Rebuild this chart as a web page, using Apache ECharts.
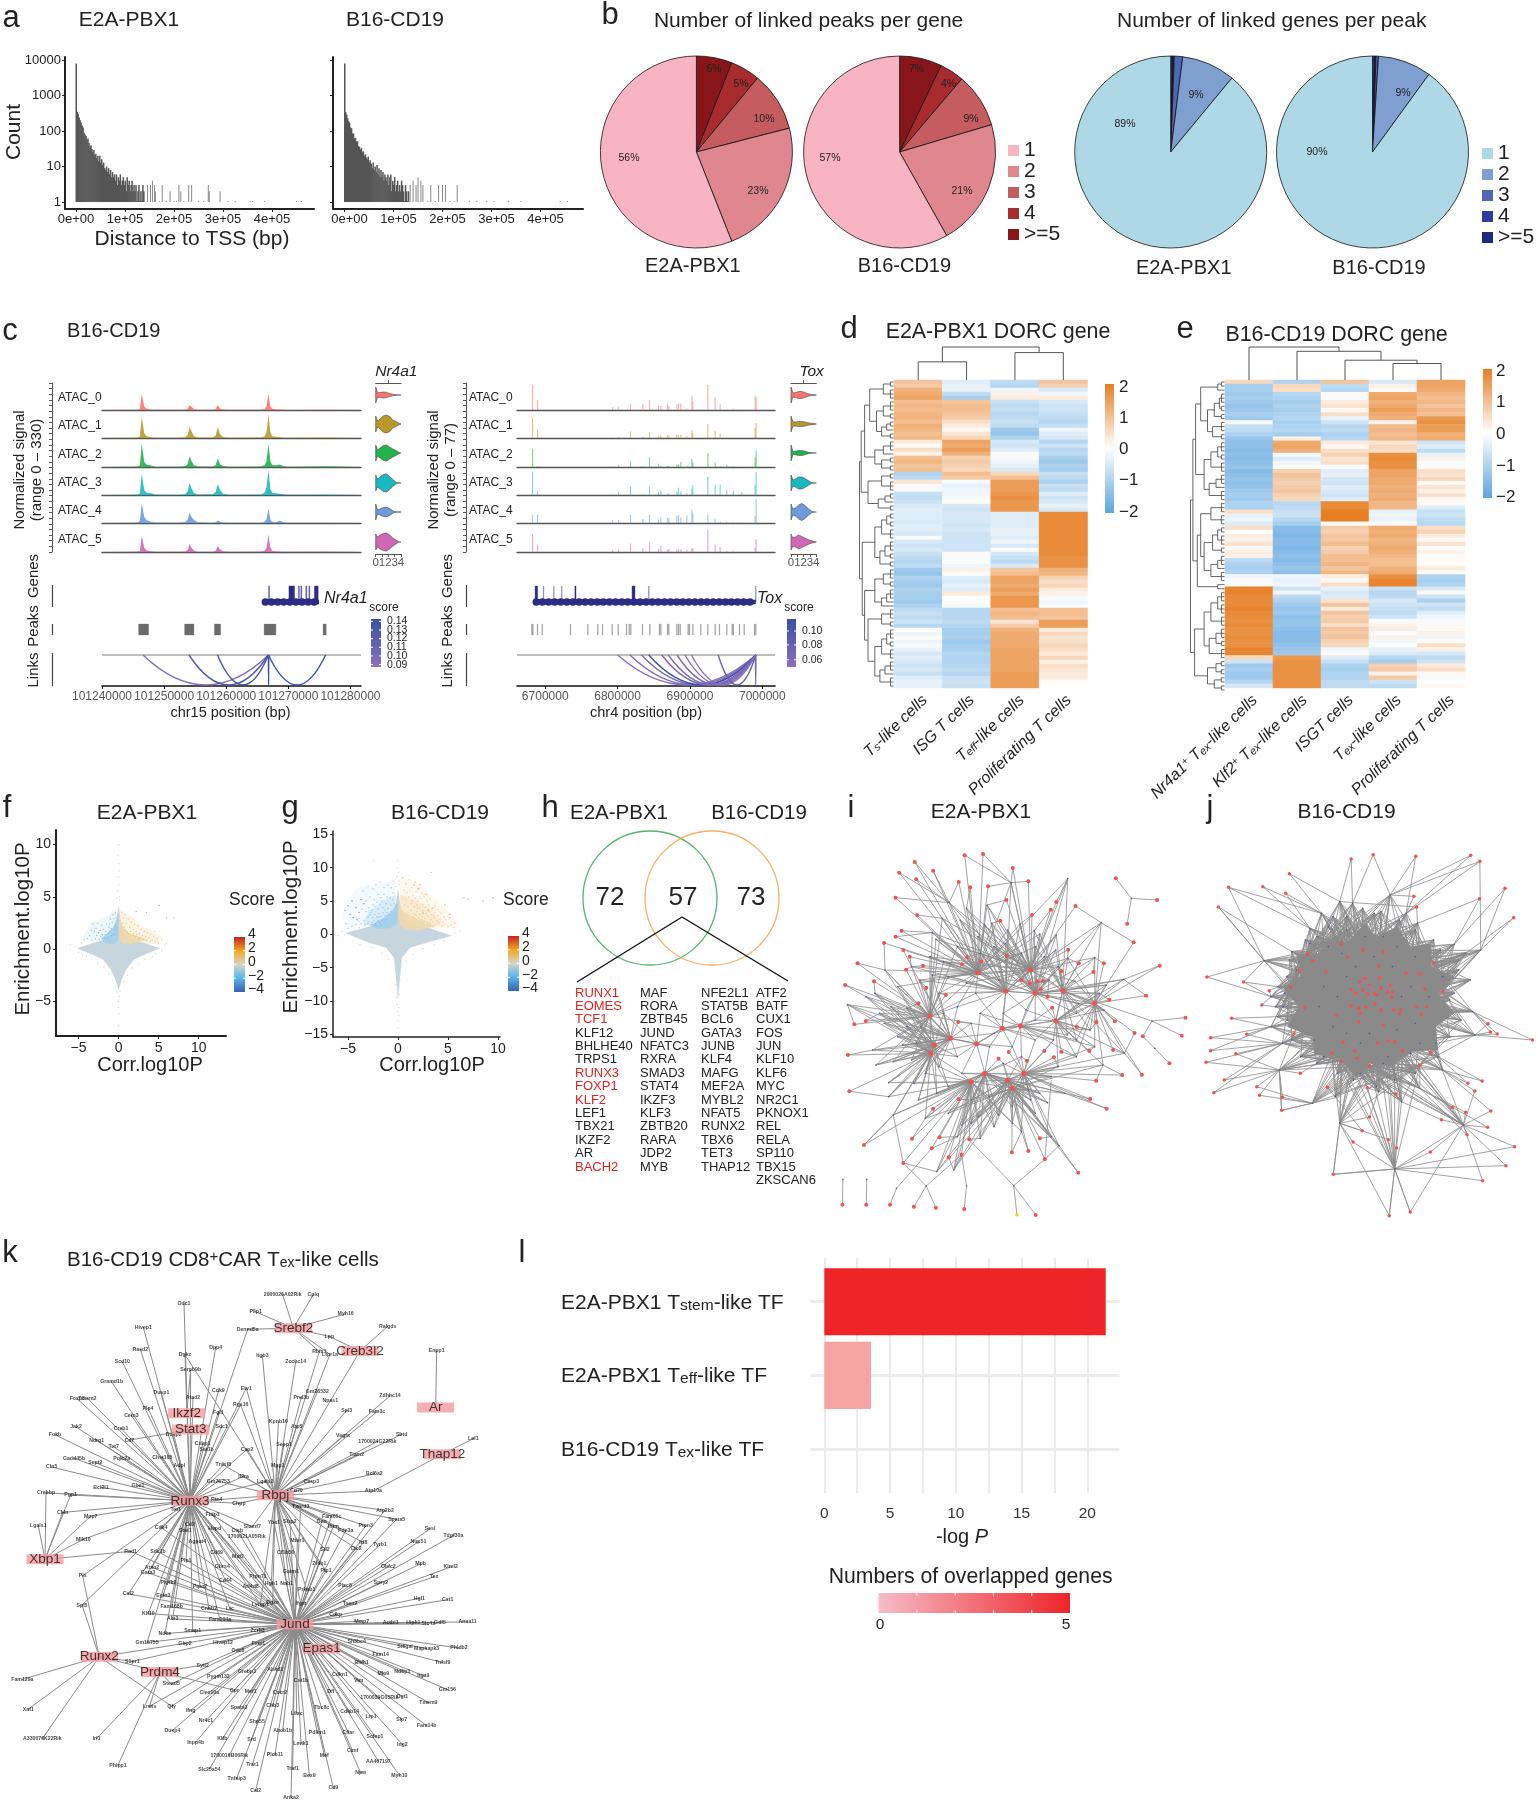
<!DOCTYPE html>
<html>
<head>
<meta charset="utf-8">
<style>html,body{margin:0;background:#fff}#main{width:1538px;height:1800px}</style>
<script src="https://cdn.jsdelivr.net/npm/echarts@6/dist/echarts.min.js"></script>
</head>
<body>
<div id="main"></div>
<script>
// a: distance to TSS histograms, counts per 2 kb bin, then the sparse tail as [x in 1e5, count]
const histA = [8000,350,300,240,200,175,140,125,90,80,72,58,62,46,36,40,31,26,29,21,23,17,20,14,20,13,16,11,13,9,8,10,7,9,6,8,5,7,5,6,4,6,3,5,4,6,3,4,5,3,4,2,5,3,4,2,3,4,2,3,2,3,1,2,3,1,2,1,3,2];
const tailA = [[1.46,3],[1.52,3],[1.56,4],[1.6,3],[1.62,2],[1.76,3],[1.92,2],[2.1,3],[2.14,2],[2.3,3],[2.36,3],[2.7,3],[2.72,2],[2.94,2],[1.7,1],[1.85,1],[2,1],[2.05,1],[2.2,1],[2.5,1],[2.6,1],[3.1,1],[3.25,1],[3.55,1],[3.6,1],[3.85,1],[4.5,1],[4.6,1]];
const histB = [8000,340,290,230,190,170,125,120,85,85,62,64,50,52,38,36,30,33,25,27,20,22,18,16,19,13,15,12,9,13,8,10,7,11,6,9,5,8,5,7,4,6,5,4,6,3,5,6,2,4,3,5,2,3,4,2,3,2,4,3,2,1,3,2,1,2];
const tailB = [[1.34,3],[1.4,4],[1.46,3],[1.5,5],[1.56,4],[1.6,3],[1.76,3],[1.92,3],[2,3],[2.06,3],[2.3,3],[1.7,1],[1.85,1],[2.15,1],[2.25,1],[2.55,1],[2.7,1],[2.9,1],[3.05,1],[3.35,1],[3.6,1],[4.4,1],[4.55,1]];

// b: pies, slices clockwise from 12 o'clock
const pieNames = ['>=5','4','3','2','1'];
const peaksE2A = [6,5,10,23,56];
const peaksB16 = [7,4,9,21,57];
const genesE2A = [0.4,0.2,1.4,9,89];
const genesB16 = [0.4,0.2,0.4,9,90];
const pieReds = ['#87151A','#A82C2E','#C45C60','#E0868E','#F8B4C2'];
const pieBlues = ['#1E2A7E','#2F3C9E','#4F68B5','#7F9FD0','#AFD8E6'];

// c: coverage tracks, Nr4a1 locus (kb from 101240000) and Tox locus (kb)
const trackNames = ['ATAC_0','ATAC_1','ATAC_2','ATAC_3','ATAC_4','ATAC_5'];
const trackColors = ['#F8766D','#B8992A','#22B14C','#17B8BF','#6C9BDC','#D066B4'];
const nrPos = [0,4,5.7,6.1,6.4,6.8,7.2,7.9,8.6,12,13.4,13.8,14.1,14.4,14.8,15.4,17.8,18.3,18.65,19,19.5,20.5,25.6,26.2,26.5,26.8,27.1,27.4,28,28.6,29.4,30,36,41.7];
const nrSignal = [
  [0,2,3,12,190,40,14,6,2,2,4,16,60,38,12,3,3,12,55,18,6,2,3,14,45,195,45,14,8,5,2,1,3,0],
  [0,3,5,18,245,55,22,10,3,3,8,35,130,80,25,5,5,30,130,45,12,3,5,22,70,280,70,22,14,12,4,2,6,3],
  [1,4,6,20,275,60,26,18,4,3,8,35,130,70,22,6,6,25,100,32,12,4,6,25,75,275,70,25,20,30,6,3,8,4],
  [1,3,5,18,250,55,26,22,5,3,9,40,140,80,25,6,8,35,130,55,16,4,6,28,90,295,75,26,22,16,5,3,6,5],
  [1,4,6,24,235,70,32,16,5,4,12,40,120,70,38,10,3,8,30,16,6,3,3,14,45,175,42,16,10,28,6,3,4,2],
  [1,3,5,16,190,50,18,10,3,3,6,25,95,50,18,4,3,14,70,28,9,4,5,16,50,205,52,16,10,6,3,2,6,4]
];
const toxPos = [6682.5,6689.4,6793,6801.3,6817.9,6834.9,6844.1,6856.5,6859.8,6869,6870.8,6881.9,6884.2,6887.4,6895.7,6902.6,6904,6924.7,6934.8,6941.7,6950.9,6960,6971.6,6990,6991.4];
const toxSignal = [
  [69,27,8,9,18,16,27,11,11,18,11,16,18,18,5,38,23,69,35,16,3,4,1,37,37],
  [55,24,2,3,18,3,16,5,6,8,7,8,8,9,5,22,14,38,20,13,2,2,1,28,41],
  [50,2,2,5,16,3,27,9,3,3,3,6,7,14,2,22,12,38,12,3,7,2,1,27,45],
  [64,10,2,8,23,3,23,8,12,4,4,10,20,10,5,18,27,50,27,29,14,10,8,27,64],
  [23,23,8,8,23,11,23,10,15,15,13,20,22,15,20,37,28,23,12,5,4,3,2,20,66],
  [50,20,5,7,23,10,27,8,18,6,8,7,8,7,6,10,10,62,20,14,3,2,1,12,35]
];
// violins: half heights at violinX expression levels
const violinX = [0,0.3,0.7,1.2,1.7,2.2,2.7,3.2,3.7,4];
const nrViolins = [
  [8,2.2,2.5,3,2.6,1.6,0.8,0.2,0,0],
  [8,3,5,8,9,7.5,4,2.5,0.8,0],
  [8,3,5,7.5,8,6,4,2.5,0.6,0],
  [8,4,6,8.5,9,6.5,3.5,0.8,0,0],
  [8,2,3,4.5,5,3.5,1.2,0,0,0],
  [8,5,7,8.5,9,7,4,2,0,0]
];
const toxViolins = [
  [8,2,2.5,3.5,3.5,2.5,1.2,0.6,0.2,0],
  [8,2,2,2.5,2.5,2,1.2,0.8,0.4,0],
  [8,1.5,1.8,2.5,2.5,1.8,0.8,0.2,0,0],
  [8,3,4,6,6,4.5,2.5,0.6,0,0],
  [8,3,4,7,8.5,6.5,3.5,1,0,0],
  [8,4,5,7,5.5,4,2.5,1.2,0.4,0]
];
const violinTicks = [0,1,2,3,4];
const nrGeneSpan = [26.3,34.95];
const nrExons = [[26.8,27],[30.1,31],[31.6,31.8],[32,32.2],[32.8,33],[33.3,33.5],[34.2,34.8]];
const nrPeaks = [[5.9,7.5],[13.3,14.8],[18.1,19.1],[26.1,28],[35.6,36.1]];
const nrLinks = [[6.6,26.8,0.095],[14,26.8,0.125],[18.6,26.8,0.135],[26.8,36,0.14],[26.8,26.85,0.14]];
const toxGeneSpan = [6687.6,6991];
const toxExons = [[6686,6689.5],[6697.5,6698],[6711.8,6712.2],[6722.8,6723.2],[6741,6742.5],[6820,6824],[6843,6843.5],[6990.8,6991.3]];
const toxPeaks = [6681.6,6683,6689.4,6695.9,6735,6758.9,6772.7,6779.2,6792.5,6800.8,6812.3,6816,6818.3,6834.4,6844.6,6857.9,6859.8,6869,6870.8,6881.9,6884.2,6886.5,6897.5,6899.4,6904,6915,6924.7,6934.8,6940.8,6950.9,6958.3,6960,6968.4,6974.9,6989.1,6991];
const toxLinks = [[6800,6991,0.06],[6817,6991,0.065],[6833,6991,0.07],[6843,6991,0.105],[6861,6991,0.07],[6870,6991,0.065],[6882,6991,0.07],[6893,6991,0.065],[6902,6991,0.06],[6939,6991,0.08],[6990.5,6991.2,0.07]];

// d: scaled accessibility, rows top to bottom, columns as in dCols
const dCols = ['Ts','ISG','Teff','Prolif'];
const heatD = [
[.9,-.4,-.8,.9],[.8,-.3,-.9,.7],[1.2,-.3,-.2,-.5],[1.3,-.8,.2,-.2],[1.4,-1.1,.3,.3],
[1,.9,-.7,-.5],[1.1,1,-.8,-.6],[1,1,-.7,-.6],[1.1,.9,-.9,-.7],[1.2,.8,-.8,-.8],[1,.5,-.7,-.9],[1.2,.3,-.8,-.7],[1.1,.1,-1.2,-.2],[1,.4,-1.3,-.4],[1.1,.6,-1,-.5],
[.3,1.4,-.5,-.9],[.1,1.3,-.6,-.6],[.5,1.5,-.4,-.9],[.2,1.2,-.1,-.8],[1,.7,.1,-1.1],[1.1,.8,-.2,-1.2],[.9,.7,-.3,-1],[1,.6,-.5,-1.1],
[-1,1,.6,-.7],[-.8,.8,1,-.8],[.4,-.1,1.5,-1],[.1,-.3,1.5,-.7],[-.1,-.2,1.5,-.8],[-.7,-.2,1.6,-.4],[-.8,-.1,1.7,-.6],[-.6,.05,1.6,-.5],[-.5,-.5,1.6,-.3],[-.4,-.6,1.6,-.5],
[-.4,-.5,-.4,1.8],[-.4,-.5,-.4,1.8],[-.5,-.5,-.4,1.8],[-.4,-.6,-.4,1.8],[-.4,-.5,-.3,1.8],[-.5,-.6,-.3,1.8],[-.1,-.6,-.4,1.8],[-.5,-.6,-.2,1.8],[-.6,-.6,-.5,1.8],[-.5,-.6,-.1,1.8],[-.7,.1,-.5,1.8],[-.8,-.1,-.7,1.7],[-.9,0,-.8,1.7],[-.8,-.2,-.5,1.7],
[-1.2,.2,.9,1.2],[-1.3,.05,1,1.1],[-1,-.4,1.4,.7],[-1.1,-.5,1.4,.5],[-1.2,-.3,1.3,.6],[-1,-.4,1.5,.3],[-1.1,.3,1.3,.2],[-1.1,0,1.6,-.1],[-1.2,.05,1.6,-.2],[-1,-.1,1.6,-.1],
[-.8,-.9,1,1],[-.7,-.9,1.1,1],[-.8,-.9,1,.9],[-.6,-.8,.4,1.5],[-.9,-.9,.8,1.5],
[0,-1.1,1.2,.3],[-.2,-1.1,1.3,.6],[.05,-1,1.3,.4],[-.2,-1.2,1.3,.5],[-.1,-1.1,1.3,.6],[-.3,-1.1,1.4,.5],[-.5,-.9,1.4,.3],[-.4,-1,1.4,.6],[-.5,-1,1.4,.2],[-.6,-.9,1.4,.5],[-.5,-.8,1.4,.4],[-.7,-.9,1.5,.3],[-.4,-.7,1.5,.3],[-.3,-.6,1.5,.05],[-.3,-.7,1.5,0]
];
// e: same, columns as in eCols
const eCols = ['Nr4a1','Klf2','ISGT','Tex','Prolif'];
const heatE = [
[.6,-1,.9,-.5,1.4],[-1.1,.6,-.8,.2,1.4],[-1.1,.5,-.9,.1,1.3],
[-1.2,-.9,.1,1.3,1.1],[-1.1,-1,-.1,1.4,1],[-1.2,-1.1,.3,1.2,1.1],[-1.3,-1,.4,1.3,.9],[-1.2,-1.1,.1,1.5,1.1],[-1.1,-1,.5,1.3,1],[-1.2,-.9,-.3,1.2,1.6],[-.1,-1.1,-.6,.2,1.7],[-.7,-1,-.9,1.1,1.5],[-.8,-.9,-.8,1.1,1.5],[-1,-1.1,-1,1,1.2],[-1.3,.2,-.9,1.1,1.3],
[-1.4,1.3,.3,.4,-.6],[-1.4,1.4,.1,.6,-.4],[-1.5,1.2,.5,.5,-.8],[-1.4,-.1,.7,1.7,-.3],[-1.5,-.4,.4,1.8,.2],[-1.4,-.2,.5,1.7,-.1],[-1.3,.1,.05,1.7,.1],[-1.5,.7,-.4,1.4,.5],[-1.4,.9,-.3,1.4,.4],[-1.3,.8,-.5,1.3,.6],[-1.4,.7,-.6,1.3,.1],[-1.3,.8,-.4,1.2,.4],[-1.2,.9,-.5,1.3,.2],[-1.1,.7,-.6,1.2,.5],[-1.2,.6,-.4,1.3,.1],
[-1,-.9,1.8,1.1,.1],[-1,-.8,1.8,1.1,-.4],[.5,-.7,2,-.3,-.7],[-.3,-.6,2,-.2,-.6],[-.2,-.9,2,-.3,-.8],[-.4,-1.1,.1,.1,-.9],
[.5,-1.5,.8,1.3,.5],[0,-1.5,.7,1.2,.7],[.3,-1.6,.9,1.3,.3],[.2,-1.5,.8,1.1,.1],[.4,-1.5,1,1.2,.4],[.1,-1.6,.7,1.3,.05],[.3,-1.5,.8,1.2,.2],[.2,-1.4,1,1.1,-.1],[-.8,-1.5,1,1,.1],[-1,-1.4,1.1,1,.05],[-1.1,-1.3,.9,1.2,.3],[-1,-1.4,1.1,1.3,.1],[-.2,-.2,.3,1.7,-1],
[-.1,-.3,.1,1.9,-1.1],[.05,-.2,.5,1.9,-1],
[1.9,-.6,-.3,-.7,-.5],[1.9,-.2,-.5,-.9,.1],[1.8,-.8,-.4,-.8,-.6],[1.8,-1,.4,-.5,-1],[1.8,-1.2,.9,-.6,-.6],[1.9,-1.3,.3,-.7,-.8],[1.8,-1.2,.9,-.8,-.4],[1.8,-1.4,.7,-.6,-.2],[1.7,-1.3,.8,-.1,-.1],[1.8,-1.3,.5,.2,.1],[1.7,-1.4,.9,.3,.05],[1.7,-1.5,.8,-.1,.2],[1.8,-1.5,.9,.2,-.2],[1.7,-1.5,.7,-.2,.1],[1.7,-1.4,.6,.05,.5],[1.9,-1.3,-.2,-.3,.2],[1.9,-1.2,.1,-.4,-.5],
[.6,1.6,-.4,-.9,-.8],[-.6,1.7,-.7,-1.1,-.6],[-1.2,1.7,-1,.7,.3],[-1.1,1.7,-1.1,.8,.5],[-1.2,1.7,-1,.2,.1],[-1.2,1.7,-1,.8,-.1],[-.9,1.7,-.8,-.6,0],[-.5,1.7,-.8,-.8,.1]
];
// dendrograms: column merges [x1,x2,h1,h2,h], row trees [h, left, right] with leaves = row counts
const dColMerges = [[0.5,1.5,0,0,0.55],[2.5,3.5,0,0,0.83],[1,3,0.55,0.83,1]];
const eColMerges = [[3.5,4.5,0,0,0.5],[2.5,4,0,0.5,0.6],[1.5,3.25,0,0.6,0.87],[0.5,2.375,0,0.87,1]];
const dTree = [1,[.95,[.85,[.7,[.3,2,3],[.5,[.3,3,2],[.35,[.2,2,1],2]]],[.55,[.3,3,1],[.35,2,2]]],[.75,[.35,2,3],[.45,[.25,2,1],2]]],[.92,[.55,[.35,[.2,2,2],3],[.4,[.25,3,2],2]],[.85,[.55,[.3,3,2],[.35,[.2,3,1],1]],[.75,[.35,3,2],[.55,[.35,[.2,3,2],3],[.4,[.25,3,1],3]]]]]];
const eTree = [1,[.93,[.85,[.7,[.2,2,1],[.5,[.3,[.15,3,2],2],[.35,3,2]]],[.6,[.4,[.2,3,2],3],[.45,[.25,3,1],3]]],[.8,[.7,[.4,3,3],[.6,[.35,[.2,2,3],2],[.4,[.2,3,1],3]]],[.2,1,1]]],[.88,[.6,[.4,[.2,3,3],3],[.45,[.25,3,2],3]],[.5,[.25,2,2],[.3,2,2]]]];

// f, g: enrichment vs correlation. Dense centre as hull polygons, sparse points read individually
const fHull = [[0,4.2],[-.3,2.6],[-.7,1.5],[-1.5,.9],[-3,.65],[-5.2,.1],[-3,-.6],[-1.9,-1],[-1,-1.9],[-.35,-3],[0,-3.9],[.35,-3],[1,-1.9],[1.9,-1],[3,-.6],[5.2,.1],[3,.65],[1.5,.8],[.7,1.5],[.3,2.6]];
const fBlueHaze = [[-.3,4],[-1.5,3],[-3.5,2.6],[-4.5,1],[-2,.6],[-.3,.6]];
const fOrangeHaze = [[.2,3.8],[1.5,3.2],[3,2.2],[5.5,1.2],[4.8,.5],[2,.5],[.3,.8]];
const fBlueLobe = [[0,3.4],[-.6,2.2],[-1.3,1.6],[-2.2,1],[-1.5,.6],[-.5,.5],[0,1]];
const fOrangeLobe = [[.05,3.2],[.5,2.2],[1.2,1.6],[2.5,1.2],[3.6,.9],[1.5,.5],[.5,.6],[.1,1]];
const fGrey = [[.1,5],[-.1,5.6],[.05,6.2],[-.05,6.9],[.1,7.5],[0,8.2],[-.08,9],[.02,10],[.15,4.7],[-.2,4.9],[-.1,-4.2],[.1,-4.5],[0,-5],[-.05,-5.6],[.08,-6.2],[-.02,-7.3],[.2,-4],[-.25,-4],[-5.5,.2],[-6,.4],[5.4,-.1],[6,.6],[-4.5,-.6],[4.2,-.7],[-4,-.7],[-3.4,-1],[-2.6,-1.3],[-1.8,-1.7],[-1.2,-2.4],[-.8,-3],[.7,-3.1],[1.1,-2.5],[1.7,-1.8],[2.5,-1.4],[3.3,-1],[4,-.9],[-4.6,.6],[-5,-.3],[4.6,-.4],[5,.5]];
const fBlue = [[-3.2,2.4],[-2.8,2],[-2.5,1.6],[-3.6,1.3],[-2.2,1.2],[-1.9,1.9],[-1.7,1.4],[-1.4,1.1],[-1.2,2.1],[-1.1,1.7],[-.9,1.3],[-.8,2.6],[-.6,2.9],[-.5,1.9],[-3.9,1],[-4.3,.9],[-2.9,1],[-2.4,.9],[-1.9,.8],[-1.5,2.4],[-2.1,2.3],[-1,2.9],[-.7,3.3],[-3,1.7],[-3.4,1.8],[-2.6,2.5],[-1.3,1.5],[-1.6,1.7],[-2,1.4],[-1.8,1.05],[-.4,3.5],[-.3,3],[-2.3,1.8],[-2.7,1.3],[-3.3,.9],[-1.1,2.4],[-.9,2],[-.6,1.4],[-.4,2.2],[-2.2,.7]];
const fOrange = [[.4,3.5],[.6,3],[.8,3.3],[1,2.5],[1.2,2.9],[1.4,2.1],[1.6,2.6],[1.8,1.9],[2,2.4],[2.2,1.7],[2.4,2.2],[2.6,1.5],[2.8,1.9],[3,1.3],[3.2,1.7],[3.4,1.2],[3.6,1.6],[3.8,1.1],[4,1.4],[4.2,.9],[4.4,1.2],[4.6,.7],[4.8,1],[5,.6],[1.1,1.6],[1.3,1.4],[1.5,1.7],[1.7,1.3],[1.9,1.5],[2.1,1.2],[2.3,1.4],[2.5,1.05],[.7,2.1],[.9,1.8],[.5,2.5],[2.7,1.1],[3.1,.95],[3.5,.85],[4,.75],[5.4,.9],[5.8,.4],[4.5,1.7]];
const fRed = [[5.1,4.2],[6.9,3],[6,3],[3.5,3.5],[2.2,3.6]];
const gHull = [[0,7],[-.3,3.5],[-.9,1.8],[-3,1.1],[-5.3,.2],[-3,-1.2],[-1.2,-2],[-.4,-3.5],[-.1,-8],[0,-10],[.1,-8],[.4,-3.5],[1.2,-2],[3,-1.2],[5.4,-.2],[3,1],[1,1.5],[.3,3.5]];
const gBlueHaze = [[-.3,8],[-2,7.5],[-4,7],[-5.4,4.5],[-5.5,1.5],[-3,.9],[-.3,1]];
const gBlueHazeInner = [[-.2,6],[-1.5,5],[-3,3.4],[-3.5,1.5],[-1.5,1],[-.2,1.5]];
const gOrangeHaze = [[.2,8.5],[2,7.8],[3.5,5.5],[5.5,3],[6,1],[2,.7],[.2,1.5]];
const gOrangeHazeInner = [[.2,6],[1.5,5.2],[3.3,3.8],[4.5,1.5],[2,.8],[.2,1.5]];
const gBlueLobe = [[0,5],[-.6,3.5],[-1.5,2.4],[-2.8,1.4],[-2,.8],[-.8,.9],[-.1,1.5]];
const gOrangeLobe = [[.05,5],[.4,3.6],[1.2,2.8],[2.5,2],[3.8,1.2],[2,.6],[.8,.8],[.1,1.5]];
const gGrey = [[.1,8],[-.1,8.6],[.05,9.3],[-.08,10],[.12,7.5],[-.2,7.2],[0,11],[-.5,8],[.4,8.5],[-2.4,11],[-.1,-10.5],[.05,-11],[-.05,-11.5],[.08,-12.2],[0,-13],[.15,-9],[-.15,-9.4],[-.2,-7.5],[.2,-6.8],[-.05,-14],[-5.6,.4],[-6,-.2],[5.7,.2],[6.2,.5],[-4.5,-.9],[-3.8,-1.5],[-2.6,-2],[-1.6,-2.8],[-.9,-3.8],[.8,-4],[1.5,-3],[2.5,-2.1],[3.6,-1.6],[4.6,-1]];
const gBlue = [[-3.5,6.5],[-3,7.2],[-2.5,6.8],[-2.2,7.5],[-1.8,7.8],[-1.4,7],[-1,7.4],[-.7,7],[-.5,6.2],[-3.2,5],[-2.8,5.6],[-2.4,5.2],[-2,6],[-1.7,5.5],[-1.4,6],[-1.1,5.6],[-.8,5.5],[-.5,5.2],[-3.6,3.8],[-3.2,3.4],[-2.9,4],[-2.6,3.6],[-2.3,4.2],[-2,3.8],[-1.8,4.5],[-1.5,4],[-1.2,4.6],[-1,3.9],[-.7,4.4],[-.4,4.6],[-3,2.6],[-2.8,2.9],[-2.5,2.5],[-2.3,3],[-2.1,2.6],[-1.9,3.1],[-1.7,2.7],[-1.5,3.2],[-1.3,2.8],[-1.1,3.3],[-.9,3],[-.7,3.4],[-3.9,2.4],[-3.4,2.1],[-2.9,1.9],[-2.6,1.8],[-2.4,2.1],[-2.2,1.6],[-2,2],[-1.8,1.7],[-1.6,2.1],[-1.4,1.8],[-1.2,2.2],[-4.2,1.5],[-3.7,1.6],[-3.3,1.4],[-3,1.6],[-2.7,1.4],[-4.6,1.2],[-5,.9],[-5.2,1.6],[-3.9,1],[-1.7,1.4],[-2.2,1.3],[-1.9,2.6],[-1.3,3.6],[-2.7,3.3],[-1.6,5],[-2.1,4.8],[-2.5,4.4]];
const gDarkBlue = [[-4.8,3],[-4.5,2.5],[-4.2,4],[-3.9,3.3],[-4.6,5],[-3.7,5.2],[-5,4.3],[-4.1,2.2],[-3.4,4.6],[-5.3,3.6]];
const gOrange = [[.5,8.5],[.8,7.6],[1.1,8.2],[1.4,7],[1.7,7.8],[.6,6.6],[.9,6.2],[1.2,6.6],[1.5,5.8],[1.8,6.4],[2.1,6.9],[2.4,6.2],[.5,5.4],[.8,5.2],[1.1,5.6],[1.4,5],[1.7,5.4],[2,5],[2.3,5.4],[2.6,5.7],[2.9,5],[3.2,5.3],[.7,4.4],[1,4.2],[1.3,4.6],[1.6,4.1],[1.9,4.4],[2.2,4],[2.5,4.5],[2.8,4.1],[3.1,4.4],[3.4,3.9],[3.7,4.3],[4,3.7],[1,3.3],[1.3,3.6],[1.6,3.1],[1.9,3.4],[2.2,3],[2.5,3.5],[2.8,3.1],[3.1,3.4],[3.4,2.9],[3.7,3.3],[4,2.8],[4.3,3.2],[4.6,2.6],[1.5,2.6],[1.8,2.9],[2.1,2.5],[2.4,2.7],[2.7,2.4],[3,2.7],[3.3,2.2],[3.6,2.5],[3.9,2],[4.2,2.3],[4.5,1.8],[4.8,2.2],[2.6,2],[2.9,1.9],[3.2,1.7],[3.5,1.9],[3.8,1.5],[4.1,1.7],[4.4,1.3],[4.7,1.5],[5,1.2],[5.3,1.4],[5.6,1],[5.2,2.5],[5.7,1.7],[2,3.9],[2.3,2.2],[1.2,3]];
const gRed = [[3.3,9.3],[2.2,7.5],[2.8,6],[4.7,4.4],[5.2,3],[7,5.3],[8.5,5],[9.5,5.5],[6.6,5.5],[3.5,4],[1.6,7.4],[2.5,3.2],[2,6.8],[3,3.6]];

// h: overlap of the TF lists
const vennCounts = [72,57,73];
const tfColumns = [
  ['RUNX1','EOMES','TCF1','KLF12','BHLHE40','TRPS1','RUNX3','FOXP1','KLF2','LEF1','TBX21','IKZF2','AR','BACH2'],
  ['MAF','RORA','ZBTB45','JUND','NFATC3','RXRA','SMAD3','STAT4','IKZF3','KLF3','ZBTB20','RARA','JDP2','MYB'],
  ['NFE2L1','STAT5B','BCL6','GATA3','JUNB','KLF4','MAFG','MEF2A','MYBL2','NFAT5','RUNX2','TBX6','TET3','THAP12'],
  ['ATF2','BATF','CUX1','FOS','JUN','KLF10','KLF6','MYC','NR2C1','PKNOX1','REL','RELA','SP110','TBX15','ZKSCAN6']
];
const redTfs = ['RUNX1','EOMES','TCF1','RUNX3','FOXP1','KLF2','BACH2'];

// i: network node positions (units: 1568 x 1350 panel box)
const iHubs = [[345,578],[240,708],[250,795],[342,791],[410,900],[445,880],[530,632],[515,722],[600,670],[285,775],[330,905],[420,925],[460,570],[360,880],[242,820],[438,738],[398,745],[406,634],[470,640]];
const iRed = [[316,226],[356,222],[207,246],[173,278],[247,272],[210,298],[421,264],[303,306],[328,322],[367,319],[455,304],[165,353],[407,360],[516,366],[558,378],[504,389],[212,405],[463,405],[394,422],[178,452],[165,470],[140,489],[182,510],[196,530],[225,557],[188,569],[82,550],[118,604],[55,615],[232,623],[275,645],[215,670],[100,723],[75,733],[61,825],[64,934],[685,487],[542,509],[620,550],[565,550],[742,557],[597,576],[527,573],[712,647],[632,659],[644,724],[604,726],[561,741],[687,759],[640,810],[588,813],[527,815],[490,813],[511,832],[660,885],[703,884],[603,902],[590,957],[626,986],[452,842],[412,816],[390,836],[507,683],[497,650],[482,628],[440,601],[458,610],[474,604],[487,603],[408,528],[321,531],[310,553],[353,544],[302,726],[357,883],[303,958],[247,986],[96,1095],[201,1076],[261,1072],[326,1078],[244,1105],[281,1132],[309,1124],[182,1149],[419,1117],[455,1113],[480,1075],[491,1138],[564,1178]];
const iRedApart = [[49,1274],[101,1274],[153,1274],[205,1280],[253,1283],[315,1287],[471,1305],[646,295],[736,360],[671,431],[798,713],[790,767],[705,769],[763,850]];
const iBlue = [[541,296],[282,368],[320,385],[365,375],[417,308],[306,420],[267,415],[375,430],[360,435],[437,432],[468,452],[516,465],[480,462],[614,428],[253,478],[245,458],[142,570],[600,533],[663,598],[625,615],[557,603],[541,535],[515,510],[490,530],[405,490],[380,500],[270,545],[245,585],[218,600],[100,650],[120,640],[60,674],[155,680],[190,685],[140,730],[115,810],[122,855],[160,845],[210,790],[180,795],[150,908],[205,910],[150,950],[230,1015],[310,1035],[345,1010],[390,1005],[440,1055],[505,1070],[522,1097],[535,940],[497,968],[505,890],[618,855],[665,820],[600,800],[540,765],[620,690],[565,670],[160,1005],[350,1075],[300,1070],[255,1175],[292,1170],[480,940],[456,930],[400,850],[370,800],[300,830],[260,860],[310,880],[280,920],[330,960],[370,950],[420,980],[350,700],[400,700],[450,690],[300,680],[260,640],[340,640],[390,600],[280,590],[220,740],[190,740],[510,780],[470,780],[560,830],[440,830],[300,500],[345,470],[410,450],[240,530],[200,560],[170,620],[130,700],[170,770],[200,840],[230,880],[255,940],[215,960],[280,1000],[330,1030],[380,1040],[420,1030],[470,1000],[460,960],[520,860],[560,780],[590,750],[560,700],[520,560],[470,500],[440,520],[350,520],[320,610],[270,700],[330,730],[380,760],[420,800],[470,720],[500,600],[610,640]];
const iBlueApart = [[680,355],[725,723],[731,805],[423,1217],[232,1218],[167,1225],[320,1218],[50,1198],[102,1198]];
const iApartEdges = [[680,355,646,295],[680,355,736,360],[680,355,671,431],[725,723,798,713],[725,723,790,767],[725,723,705,769],[725,723,530,632],[731,805,705,769],[731,805,763,850],[423,1217,491,1138],[423,1217,430,1304],[423,1217,471,1305],[423,1217,330,1085],[232,1218,182,1149],[232,1218,205,1280],[232,1218,253,1283],[232,1218,309,1124],[167,1225,153,1274],[167,1225,244,1105],[320,1218,315,1287],[320,1218,309,1124],[50,1198,49,1274],[102,1198,101,1274],[160,1005,96,1095],[160,1005,182,1149],[491,1138,505,900]];
const iYellow = [[430,1304]];

// j: the core is too dense to trace edge by edge, so it is a hull plus the edges around it
const jCore = [[1120,470],[1150,490],[1190,430],[1215,470],[1260,440],[1290,500],[1335,490],[1335,560],[1385,590],[1350,640],[1385,700],[1345,740],[1350,810],[1290,815],[1250,860],[1200,850],[1170,890],[1130,830],[1080,825],[1075,770],[1020,740],[1045,680],[1010,620],[1050,590],[1040,520],[1085,525]];
const jInner = [[1138,492],[1186,510],[1230,515],[1076,543],[1105,575],[1048,572],[1152,530],[1220,558],[1280,580],[1310,582],[1190,595],[1180,605],[1222,593],[1200,615],[1160,628],[1185,630],[1225,625],[1246,615],[1210,638],[1198,642],[1215,645],[1240,636],[1250,636],[1170,640],[1248,652],[1160,677],[1212,672],[1192,682],[1176,685],[1225,690],[1252,690],[1268,690],[1265,702],[1180,700],[1128,706],[1176,726],[1230,735],[1303,681],[1313,703],[1325,680],[1340,550],[1320,627],[1360,635],[1142,787],[1168,813],[1218,790],[1240,783],[1255,785],[1272,812],[1310,855],[1118,818],[1138,843],[1172,835],[1200,858],[1065,523],[1028,622],[1058,683]];
const jOuter = [[1160,237],[1208,224],[1301,229],[1421,226],[1441,244],[1025,281],[967,320],[892,322],[1017,340],[870,381],[1496,325],[1440,356],[1297,349],[1303,381],[1515,413],[845,591],[925,606],[981,632],[965,675],[899,715],[853,773],[932,763],[853,812],[843,847],[908,821],[1035,762],[883,900],[860,938],[954,920],[960,946],[1010,952],[1008,991],[1049,880],[1108,922],[1195,923],[1258,942],[1200,1011],[1184,1052],[1164,1086],[1241,1079],[1259,1104],[1333,1116],[1357,1019],[1381,982],[1410,997],[1430,933],[1415,910],[1446,903],[1465,993],[1458,1042],[1413,1064],[1517,1100],[1498,1157],[1447,1202],[1121,1183],[1243,1307],[1289,1296],[1334,817],[1459,731],[1464,756],[1479,762],[1556,780]];
const jBlue = [[1135,365],[1245,345],[1095,400],[1070,445],[1163,370],[1210,400],[1265,420],[1305,430],[1340,480],[1385,493],[1443,510],[1410,520],[1395,570],[1360,590],[1425,695],[1375,660],[1430,765],[1345,790],[1405,1035],[1360,870],[1310,925],[1255,1167],[1270,965],[1220,935],[1135,1030],[1125,950],[1075,970],[1003,870],[1030,780],[1000,710],[985,650],[970,542],[1015,640],[1030,515],[1040,570],[1012,680],[1070,490],[1150,450],[1100,830],[1180,880],[1230,850],[1290,820],[1120,410],[1185,385],[1225,395],[1280,400],[1300,450],[1355,510],[1395,540],[1420,600],[1385,640],[1400,720],[1375,770],[1350,830],[1300,880],[1255,900],[1215,920],[1165,900],[1130,880],[1085,850],[1050,830],[1010,790],[985,740],[1020,720],[995,680],[1000,620],[1020,590],[1025,540],[1060,480],[1085,470],[1110,440],[1150,410]];
const jBlueInner = [[1100,620],[1130,650],[1150,590],[1250,560],[1290,620],[1270,650],[1120,740],[1150,760],[1200,760],[1260,750],[1300,730],[1090,680],[1210,530],[1170,560],[1330,650],[1080,780],[1240,830],[1180,790],[1140,520],[1260,500],[1300,530],[1310,790],[1110,500],[1190,470],[1230,470]];
const jExtraEdges = [[1135,365,1303,381],[1441,244,1443,510],[1121,1183,1255,1167],[1255,1167,1243,1307],[1255,1167,1289,1296],[1255,1167,1405,1035],[1121,1183,1135,1030],[925,606,970,542],[892,322,970,542],[870,381,970,542],[1008,991,1135,950],[1008,991,1003,870]];

// k: regulators, then genes as [name, x, y, regulator indexes] (units: 1560 x 1568 panel box)
const kHubs = [['Srebf2',880,270],['Creb3l2',1080,333],['Ikzf2',560,504],['Stat3',572,549],['Ar',1307,488],['Thap12',1327,617],['Runx3',570,745],['Rbpj',826,730],['Xbp1',135,906],['Jund',885,1085],['Epas1',965,1152],['Runx2',298,1174],['Prdm4',480,1216]];
const kGenes = [
['2900026A02Rik',848,178,[0]],['Cplq',940,178,[0]],['Pllp1',767,225,[0]],['Myh16',1037,231,[0]],['Ralgds',1163,265,[1]],['Lpp',988,293,[0,1]],['Rbfx1',958,335,[0,7]],['Ltpr1a',990,342,[0,7]],['Enpp1',1310,333,[4]],
['Odc1',552,203,[6]],['Hivep1',430,268,[6]],['Dennd5a',743,273,[0,6]],['Rasd2',421,329,[6]],['Dpp4',647,323,[6]],['Dgkz',555,343,[6,7]],['Itgb3',787,345,[7]],['Scd10',367,363,[6]],['Serpb9b',572,385,[6,2]],['Zcchc14',887,363,[7]],['Gramd1b',335,418,[6]],['Dusp1',484,448,[6]],['Cdk9',655,443,[6]],['Etv1',739,435,[6,7]],['Pnd3b',904,460,[7]],['Gm26532',952,445,[7]],['Npas1',991,470,[7,1]],['Zdhhc14',1170,456,[7]],['Foxp3',232,465,[6]],['Tmem2',262,463,[6]],['Atad2',579,462,[6]],['Rgs16',722,481,[6,7]],['Plp4',444,490,[6]],['Spl3',1040,496,[7]],['Fam3c',1131,500,[7]],['Cetn3',394,510,[6]],['Fgl1',655,501,[6]],
['Jak2',228,542,[6]],['Creb1',363,546,[6]],['Sdc1',665,541,[6]],['Kpnb10',835,528,[7]],['Atp5',890,541,[7]],['Fokb',165,563,[6]],['Dusp2',521,562,[6,3]],['Vegfa',1029,566,[7]],['Sbtd',1205,562,[7]],['Lef1',1420,574,[5]],['Ndrg1',290,578,[6]],['Cd7',388,578,[6,3]],['1700024G22Rik',1132,582,[7]],['Csbp1',608,588,[6]],['Sepp1',852,590,[7]],['Tet7',341,596,[6]],['Sat1b',620,604,[6]],['Cap2',741,603,[6,7]],['Tiam2',1070,619,[7]],['Pqlc2a',365,628,[6]],['Gadd45b',222,628,[6]],['Chst105',487,625,[6]],['Sept2',286,640,[6]],['Cln5',155,652,[6]],['Adpl',538,649,[6]],['Tnfsf8',670,646,[6,7]],['Mpp1',833,647,[7]],['Bcl6a2',1123,671,[7]],['Il2ra',731,677,[6,7]],['Gm26753',655,691,[6,7]],['Lgals3',796,692,[6,7]],['Casp3',934,691,[7]],['Bcl2l1',303,708,[6]],['Gbe1',414,703,[6]],['Cd70',889,718,[7]],['Atp10a',1120,718,[7,5]],
['Crebbp',138,723,[6,8]],['Pgp1',212,729,[6,8]],['Rtn4',650,742,[6,7]],['Chpp',717,752,[6,7]],['Txnrd3',902,762,[7,9]],['Tet1',527,769,[6]],['Atp2b2',1155,771,[7,9]],['Cbln',188,777,[6,8]],['Ftdp1',638,784,[6,9]],['Mpp7',272,787,[6,8]],['Fam65c',995,787,[7,9]],['Spata5',1190,796,[7,9]],['Ybx1',822,805,[7,9]],['Sfrp2',870,803,[7,9]],['Gsn',965,803,[7,9]],['Cd2',570,811,[6]],['Lgals1',115,814,[8]],['Ptpn3',1097,814,[7,9]],['Ifitm',1000,815,[7,9]],['Slamf7',757,816,[6,7]],['Cdk4',483,818,[6,9]],['Hspd',644,820,[6,9]],['Sesl',1290,822,[9]],['Ctsb',712,827,[6,9]],['Stat1',556,827,[6]],['Pde3a',1037,828,[7,9]],['Tdgf30a',1360,840,[9]],['1700021A05Rik',740,843,[6,9]],['Mllt10',250,851,[8,6]],['Mtor1',892,855,[7,9]],['Agpat4',592,857,[6]],['Nup51',1255,858,[9]],['Irf8',1090,860,[7,9]],['Tyrb1',1140,866,[9]],['Ctc2',1068,876,[7,9]],['Stl2',975,878,[7,9]],['Rad1',392,884,[8,9]],['Sdc1b',474,885,[6,9]],['Cf1b50',857,888,[9,7]],['Cd69',650,888,[6,9]],['Mef2',714,898,[6,9]],['Plp1',558,908,[6,9]],['Zfdb1',958,917,[9,7]],['Mpb',1262,918,[9]],['Gbrs4',667,925,[9,6]],['Obfc2',1165,926,[9]],['Klrel2',1352,927,[9]],['Atxn2',456,928,[6,9]],['Ptp1',978,938,[9,7]],['Gatm1',873,940,[9,7]],['Gata3',444,943,[6,9]],['Pls',248,951,[6,11]],['Ptpn71',774,952,[9,6]],['Tex',1302,954,[9]],['Cd44',676,964,[9,6]],['Plgrk2',505,969,[6,9]],['Spry2',1143,969,[9]],['Nab1',860,973,[9,7]],['Hgh1',814,973,[9,7]],['Plac8',1035,979,[9]],['Arl4d8',752,980,[9,6]],['Ptpn2',600,980,[6,9]],['Prkab1',920,988,[9,7]],['Cel2',385,1001,[6,9]],['Egln3',490,1005,[6,9]],['Hgl1',1258,1013,[9]],['Cst1',1343,1017,[9]],['Dgke',818,1025,[6,9,7]],['Tsen2',1050,1028,[9]],['Ifgm',903,1029,[9,7]],['Lyrgp1',781,1030,[6,9,7]],['Spl5',246,1032,[6,11]],['Fam168b',515,1037,[9,6]],['Ltc',690,1042,[9,6]],['Cnnb2',627,1042,[9,6]],['Klf10',445,1055,[6,9]],['Cdkp',1007,1058,[9]],['Abi3',518,1070,[9,6]],['Fam104a',660,1073,[9,6]],['Mmp7',1085,1076,[9]],['Anxa11',1403,1078,[9]],['Gdf5',1320,1079,[9]],['Hipk1',1240,1080,[9]],['Actbl1',1172,1081,[9]],['Slc4a',1285,1084,[9]],
['Zcrb3',773,1101,[9]],['Smap1',578,1103,[9,6]],['Ndbe',495,1110,[9,6]],['Sh3bc4',1070,1131,[9]],['Hivep12',669,1134,[9]],['Gm16755',441,1135,[9,6]],['Gbp2',555,1137,[9,11]],['Fmp1',775,1137,[9]],['St6gal',1215,1146,[9]],['Phldb2',1377,1150,[9]],['Mapkapk3',1280,1151,[9]],['Odc8',714,1156,[9]],['Fam14',1142,1167,[9]],['S1pr1',397,1187,[11,9]],['Tnfsf9',1328,1190,[9]],['Bhlh1',1085,1190,[9]],['Sytl2',608,1197,[9,12]],['Abhd2',826,1208,[9]],['Grebp3',741,1215,[9]],['Ndfip1',1207,1216,[9]],['Mlp9',1150,1220,[9]],['Cdkn1',1020,1222,[9]],['Itga9',1270,1226,[9]],['Pygm132',655,1229,[9]],['Fam129a',67,1236,[11]],['Cst1b',903,1239,[9]],['Vim',1076,1240,[9]],['Stead5',514,1249,[9,12]],['Gm156',1342,1264,[9]],['Gpr',703,1266,[9,11]],['Mef1',752,1270,[9]],['Dfl',992,1270,[9]],['Cxcr2',840,1272,[9]],['Clec10a',628,1272,[9]],['Ogt1',1207,1283,[9]],['1700039G05Rik',1138,1287,[9]],['Tmem9',1285,1300,[9]],['Cltb3',818,1308,[9]],['Qfy',515,1310,[9,11]],['Lrwis',449,1310,[9,12]],['Spata3',717,1314,[9]],['Tbc8c',965,1315,[9]],['Xaf1',85,1318,[11]],['Ifng',572,1322,[9]],['Cdkb14',1049,1326,[9]],['Lilac',890,1329,[9]],['Lrp1',1113,1338,[9]],['Sip7',1205,1346,[9]],['Nr4c1',618,1350,[9]],['Shp55',771,1352,[9]],['Fam14b',1280,1364,[9]],['Abcb1b',848,1377,[9]],['Dusp4',517,1377,[9]],['Pdlim1',952,1382,[9]],['Cflar',1045,1382,[9]],['Scfap1',1125,1393,[9]],['A330076K22Rik',127,1399,[11]],['Irf1',290,1399,[12]],['Klfb',667,1400,[9]],['Srd',755,1401,[9]],['Inpp4b',587,1409,[9]],['Lmtk1',903,1412,[9]],['Ing2',1207,1415,[9]],['Ccnf',1058,1433,[9]],['Plcb11',825,1443,[9]],['Mef',973,1445,[9]],['1700016B06Rik',688,1445,[9]],['AA467197',1135,1461,[9]],['Trat1',757,1471,[9]],['Phlpp1',354,1472,[12]],['Traf1',878,1482,[9]],['Slc25a54',628,1483,[9]],['Npw',1082,1493,[9]],['Myh10',1198,1500,[9]],['Bex9',928,1500,[9]],['Tnfaip3',710,1509,[9]],['Cd9',1000,1535,[9]],['Cal2',767,1542,[9]],['Anka2',873,1560,[9]]
];

// l: TF enrichment bars
const tfSets = ['E2A-PBX1 Tstem-like TF','E2A-PBX1 Teff-like TF','B16-CD19 Tex-like TF'];
const tfLogP = [21.4,3.55,0];
const tfColors = ['#EE2428','#F6A3A3','#F6A3A3'];
const tfTicks = [0,2.5,5,7.5,10,12.5,15,17.5,20];
const tfTickLabels = [0,5,10,15,20];

const FONT = '"Liberation Sans", Arial, sans-serif';
const grids = [], xAxes = [], yAxes = [], series = [], graphics = [], legends = [], visualMaps = [];
const hidden = {show: false};

function addGrid(x, y, w, h, xa, ya) {
  const g = {grid: grids.length, x: xAxes.length, y: yAxes.length};
  grids.push({left: x, top: y, width: w, height: h});
  xAxes.push(Object.assign({gridIndex: g.grid, type: 'value', splitLine: hidden}, xa));
  yAxes.push(Object.assign({gridIndex: g.grid, type: 'value', splitLine: hidden}, ya));
  return g;
}
// plain visible axis with ticks at the given values
function tickAxis(min, max, ticks, labels, opt) {
  opt = opt || {};
  return {
    min, max,
    axisLine: {show: true, onZero: false, lineStyle: {color: opt.color || '#222', width: opt.width || 1.5}},
    axisTick: {show: true, length: opt.tick || 3, customValues: ticks, lineStyle: {color: opt.color || '#222'}},
    axisLabel: {show: !!labels, customValues: labels || ticks, interval: 0, showMinLabel: true, showMaxLabel: true, hideOverlap: false, padding: opt.pad || 0, fontFamily: FONT, fontSize: opt.font || 13, color: opt.labelColor || '#222', margin: opt.margin || 4, formatter: opt.fmt || (v => String(v).replace('-', '\u2212'))}
  };
}
function T(x, y, text, size, o) {
  o = o || {};
  graphics.push({type: 'text', x, y, rotation: (o.rot || 0) * Math.PI / 180, silent: true, z: 50, style: {
    text, fontSize: size, fontFamily: FONT, fontStyle: o.italic ? 'italic' : 'normal', fontWeight: o.bold ? 'bold' : 'normal',
    fill: o.color || '#222', align: o.align || 'center', verticalAlign: 'middle', textAlign: o.align || 'center', textVerticalAlign: 'middle', rich: o.rich
  }});
}
function segSeries(g, segs, color, width, z, opacity) {
  series.push({type: 'custom', xAxisIndex: g.x, yAxisIndex: g.y, silent: true, clip: false, z: z || 2, animation: false, encode: {x: [0, 2], y: [1, 3]}, data: segs,
    renderItem: (p, api) => {
      const a = api.coord([api.value(0), api.value(1)]), b = api.coord([api.value(2), api.value(3)]);
      return {type: 'line', shape: {x1: a[0], y1: a[1], x2: b[0], y2: b[1]}, style: {stroke: color, lineWidth: width, opacity: opacity || 1}};
    }});
}
function polySeries(g, polys, styleOf, z) {
  series.push({type: 'custom', xAxisIndex: g.x, yAxisIndex: g.y, silent: true, clip: false, z: z || 2, data: polys.map((p, i) => [i]),
    renderItem: (p, api) => ({type: 'polygon', shape: {points: polys[p.dataIndex].map(pt => api.coord(pt))}, style: styleOf(p.dataIndex)})});
}
function dots(g, data, color, size, z, opacity) {
  series.push({type: 'scatter', xAxisIndex: g.x, yAxisIndex: g.y, silent: true, clip: false, z: z || 3, symbolSize: size, data, itemStyle: {color, opacity: opacity || 1}});
}
function colorbar(x, y, w, h, stops, ticks, horizontal) {
  const n = stops.length - 1;
  const fill = new echarts.graphic.LinearGradient(0, 0, horizontal ? 1 : 0, horizontal ? 0 : 1, stops.map((c, i) => ({offset: i / n, color: c})));
  graphics.push({type: 'rect', shape: {x, y, width: w, height: h}, style: {fill}, silent: true, z: 40});
  (ticks || []).forEach(t => {
    const s = horizontal ? {x1: x + t * w, y1: y, x2: x + t * w, y2: y + 3} : {x1: x, y1: y + t * h, x2: x + 2, y2: y + t * h};
    const e = horizontal ? {x1: x + t * w, y1: y + h - 3, x2: x + t * w, y2: y + h} : {x1: x + w - 2, y1: y + t * h, x2: x + w, y2: y + t * h};
    graphics.push({type: 'line', shape: s, style: {stroke: '#fff', lineWidth: 1}, silent: true, z: 41});
    graphics.push({type: 'line', shape: e, style: {stroke: '#fff', lineWidth: 1}, silent: true, z: 41});
  });
}
function vline(x, y1, y2, color) {
  graphics.push({type: 'line', shape: {x1: x, y1, x2: x, y2}, style: {stroke: color || '#444', lineWidth: 1.2}, silent: true, z: 40});
}

// ---- panel letters
[['a',11,18],['b',610,15],['c',10,331],['d',849,329],['e',1185,329],['f',7,808],['g',290,808],['h',550,808],['i',851,808],['j',1210,808],['k',10,1253],['l',522,1253]]
  .forEach(l => T(l[1], l[2], l[0], 31));

// ---- a
function histPanel(x, w, zeroShift, counts, tail, showLabels, labelPad) {
  const g = addGrid(x, 57, w, 152,
    tickAxis(zeroShift, zeroShift + w / 49 * 1e5, [0, 1e5, 2e5, 3e5, 4e5], [0, 1e5, 2e5, 3e5, 4e5], {fmt: v => v === 0 ? '0e+00' : (v / 1e5) + 'e+05', width: 2, font: 13, pad: labelPad}),
    tickAxis(-0.197, 4.085, [0, 1, 2, 3, 4], showLabels ? [0, 1, 2, 3, 4] : null, {fmt: v => String(Math.pow(10, v)), width: 2, font: 13}));
  series.push({type: 'bar', xAxisIndex: g.x, yAxisIndex: g.y, data: counts.map((c, i) => [i * 2000, Math.log10(c)]), barWidth: 1.5, barMinHeight: 1, silent: true, itemStyle: {color: '#555'}});
  series.push({type: 'bar', xAxisIndex: g.x, yAxisIndex: g.y, data: tail.map(t => [t[0] * 1e5, Math.log10(t[1])]), barWidth: 1, barMinHeight: 1, barGap: '-100%', silent: true, itemStyle: {color: '#888'}});
}
histPanel(65, 249, -22450, histA, tailA, true);
histPanel(333, 250, -23470, histB, tailB, false, [0, 0, 0, 10]);
T(129, 20, 'E2A-PBX1', 21); T(395, 20, 'B16-CD19', 21);
T(14, 132, 'Count', 21, {rot: 90});
T(192, 239, 'Distance to TSS (bp)', 21);

// ---- b
function piePanel(cx, values, colors) {
  series.push({type: 'pie', center: [cx, 152], radius: 96, startAngle: 90, clockwise: true, silent: true, label: hidden, labelLine: hidden,
    data: values.map((v, i) => ({name: pieNames[i], value: v, itemStyle: {color: colors[i], borderColor: '#111', borderWidth: 0.8}}))});
}
piePanel(696.4, peaksE2A, pieReds); piePanel(899.6, peaksB16, pieReds);
piePanel(1170.7, genesE2A, pieBlues); piePanel(1372.5, genesB16, pieBlues);
function pieLegend(left, top, colors) {
  legends.push({left, top, padding: 0, orient: 'vertical', itemWidth: 11, itemHeight: 11, itemGap: 0, icon: 'rect', selectedMode: false,
    textStyle: {fontFamily: FONT, fontSize: 21, color: '#222', lineHeight: 20.3},
    data: pieNames.slice().reverse().map((n, i) => ({name: n, itemStyle: {color: colors[4 - i], borderWidth: 0}}))});
}
pieLegend(1008, 140, pieReds);
pieLegend(1482, 143, pieBlues);
const pieLabels = [
  [peaksE2A, [[714,69],[741,84],[764,119],[758,191],[629,158]]],
  [peaksB16, [[916.5,69],[948.5,84],[971,119],[962,191],[830,158]]],
  [genesE2A, [null,null,null,[1196,95],[1125,124]]],
  [genesB16, [null,null,null,[1403,93],[1317,152]]]
];
pieLabels.forEach(p => p[1].forEach((pos, i) => { if (pos) T(pos[0], pos[1], p[0][i] + '%', 10.5, {color: '#222'}); }));
T(808.6, 21, 'Number of linked peaks per gene', 21); T(1271.7, 21, 'Number of linked genes per peak', 21);
T(692.8, 266, 'E2A-PBX1', 20); T(904.4, 266, 'B16-CD19', 20); T(1183.7, 268, 'E2A-PBX1', 20); T(1379, 268, 'B16-CD19', 20);

// ---- c
const TRACK_BASE = [410, 438, 467, 495, 523, 552];
const VIOLIN_ROW = [12, 41, 70, 100, 129, 159];
function lerpColor(t) { // score colour, 0 = pale purple, 1 = dark blue
  const a = [138, 112, 189], b = [58, 79, 163];
  return 'rgb(' + a.map((v, i) => Math.round(v + (b[i] - v) * t)).join(',') + ')';
}
function locusPanel(o) {
  const xaHidden = {min: o.xMin, max: o.xMax, axisTick: hidden, axisLabel: hidden, axisLine: {show: true, onZero: false, lineStyle: {color: '#555', width: 1.3}}};
  trackNames.forEach((name, i) => {
    const g = addGrid(o.x, TRACK_BASE[i] - 28, o.w, 28, xaHidden, {min: 0, max: o.range, show: false});
    o.draw(g, i);
    T(o.labelX, TRACK_BASE[i] - 12, name, 12, {align: 'left'});
  });
  // stacked y ruler
  addGrid(o.axisX, 383, 1, 169, {show: false, min: 0, max: 1},
    {min: 0, max: 30, interval: 1, axisLine: {show: true, onZero: false, lineStyle: {color: '#555'}}, axisTick: {show: true, length: 3, lineStyle: {color: '#555'}}, axisLabel: hidden});
  T(o.axisX - 32, 470, 'Normalized signal', 15, {rot: 90}); T(o.axisX - 15, 470, o.rangeLabel, 15, {rot: 90});
  // violins
  const vg = addGrid(o.vx, 383, o.vw, 171,
    tickAxis(0, 4, violinTicks, violinTicks, {color: '#555', width: 1, margin: 3, font: 11.5, labelColor: '#555'}),
    {min: 0, max: 171, inverse: true, show: false});
  xAxes.push(Object.assign(tickAxis(0, 4, [2], null, {color: '#555', width: 1}), {gridIndex: vg.grid, type: 'value', position: 'top', splitLine: hidden}));
  yAxes.push({gridIndex: vg.grid, type: 'value', show: false});
  polySeries(vg, o.violins.map((h, r) => violinX.map((x, j) => [x, VIOLIN_ROW[r] - h[j]]).concat(violinX.map((x, j) => [x, VIOLIN_ROW[r] + h[j]]).reverse())),
    r => ({fill: trackColors[r], stroke: '#444', lineWidth: 0.6}));
  T(o.vx + o.vw / 2 + 8, 372, o.gene, 15.5, {italic: true});
  // genes, peaks, links share one axis; y runs 0..103 px from 583 to 686
  const low = addGrid(o.x, 583, o.w, 103,
    tickAxis(o.xMin, o.xMax, o.ticks, o.ticks, {color: '#111', labelColor: '#555', font: 12, margin: 5, width: 1.6, fmt: o.fmt}),
    {min: 0, max: 103, inverse: true, show: false});
  const GENE_Y = 19, LINK_TOP = 72, LINK_BOT = 102;
  series.push({type: 'line', xAxisIndex: low.x, yAxisIndex: low.y, showSymbol: false, silent: true, data: o.geneSpan.map(v => [v, GENE_Y]), lineStyle: {color: '#2B2C82', width: 4.5}, z: 3});
  series.push({type: 'line', xAxisIndex: low.x, yAxisIndex: low.y, showSymbol: false, silent: true, data: o.geneSpan.map(v => [v, GENE_Y]), lineStyle: {color: '#2B2C82', width: 7.5, type: [0.1, o.dotGap], cap: 'round'}, z: 3});
  polySeries(low, o.exons.map(e => [[e[0], 3], [e[1], 3], [e[1], GENE_Y], [e[0], GENE_Y]]), i => ({fill: '#2B2C82', stroke: '#2B2C82', lineWidth: 0.4, opacity: o.exons[i][1] - o.exons[i][0] < o.thinExon ? 0.65 : 1}));
  polySeries(low, o.peaks.map(p => [[p[0], 41], [p[1], 41], [p[1], 52], [p[0], 52]]), i => ({fill: '#6b6b6b', stroke: '#6b6b6b', lineWidth: 0.3, opacity: o.peakOpacity}));
  series.push({type: 'line', xAxisIndex: low.x, yAxisIndex: low.y, showSymbol: false, silent: true, data: [[o.xMin, LINK_TOP], [o.xMax, LINK_TOP]], lineStyle: {color: '#bdbdbd', width: 2}});
  series.push({type: 'custom', xAxisIndex: low.x, yAxisIndex: low.y, silent: true, clip: false, data: o.links.map((l, i) => [i]), z: 4,
    renderItem: (p, api) => {
      const l = o.links[p.dataIndex];
      const a = api.coord([l[0], LINK_TOP]), b = api.coord([l[1], LINK_TOP]), c = api.coord([(l[0] + l[1]) / 2, LINK_TOP + 2 * (LINK_BOT - LINK_TOP)]);
      return {type: 'bezierCurve', shape: {x1: a[0], y1: a[1], x2: b[0], y2: b[1], cpx1: c[0], cpy1: c[1]},
        style: {fill: 'none', stroke: lerpColor((l[2] - o.scoreMin) / (o.scoreMax - o.scoreMin)), lineWidth: 1.4}};
    }});
  vline(o.axisX + 0.5, 585, 607); vline(o.axisX + 0.5, 624, 635); vline(o.axisX + 0.5, 653, 686);
  T(o.axisX - 18, 576, 'Genes', 15, {rot: 90}); T(o.axisX - 18, 626, 'Peaks', 15, {rot: 90}); T(o.axisX - 18, 670, 'Links', 15, {rot: 90});
  T(o.x + o.w / 2 + o.titleShift, 713, o.xTitle, 14.5);
  T(o.nameX, 599, o.gene, 16, {italic: true, align: 'left'});
}
locusPanel({
  x: 102, w: 259, xMin: 0, xMax: 41.7, range: 330, labelX: 58, axisX: 52, rangeLabel: '(range 0 \u2013 330)',
  draw: (g, i) => series.push({type: 'line', xAxisIndex: g.x, yAxisIndex: g.y, showSymbol: false, silent: true, data: nrPos.map((p, j) => [p, nrSignal[i][j]]), lineStyle: {width: 0}, areaStyle: {color: trackColors[i], opacity: 0.9}, itemStyle: {color: trackColors[i]}}),
  vx: 375.7, vw: 25.3, violins: nrViolins, gene: 'Nr4a1', ticks: [0, 10, 20, 30, 40], fmt: v => String(101240000 + v * 1000),
  geneSpan: nrGeneSpan, exons: nrExons, thinExon: 0.25, peaks: nrPeaks, peakOpacity: 1, links: nrLinks, scoreMin: 0.09, scoreMax: 0.14, dotGap: 6,
  xTitle: 'chr15 position (bp)', titleShift: -1, nameX: 324
});
locusPanel({
  x: 517, w: 258, xMin: 6661, xMax: 7017.5, range: 77, labelX: 469, axisX: 466, rangeLabel: '(range 0 \u2013 77)',
  draw: (g, i) => series.push({type: 'bar', xAxisIndex: g.x, yAxisIndex: g.y, silent: true, barWidth: 1.2, data: toxPos.map((p, j) => [p, toxSignal[i][j]]), itemStyle: {color: trackColors[i], opacity: 0.55}}),
  vx: 791, vw: 25.3, violins: toxViolins, gene: 'Tox', ticks: [6700, 6800, 6900, 7000], fmt: v => String(v * 1000),
  geneSpan: toxGeneSpan, exons: toxExons, thinExon: 1, peaks: toxPeaks.map(p => [p - 0.6, p + 0.6]), peakOpacity: 0.6, links: toxLinks, scoreMin: 0.06, scoreMax: 0.105, dotGap: 6,
  xTitle: 'chr4 position (bp)', titleShift: 0, nameX: 757
});
T(67, 331, 'B16-CD19', 20, {align: 'left'});
const scoreStops = ['#3A4FA3', '#8A70BD'];
T(384, 608, 'score', 12); colorbar(371, 619, 10, 48, scoreStops, [.05, .23, .41, .59, .77, .95]);
[['0.14',621],['0.13',630],['0.12',638],['0.11',647],['0.10',656],['0.09',665]].forEach(l => T(387, l[1], l[0], 10.5, {align: 'left'}));
T(799, 608, 'score', 12); colorbar(787, 619, 9, 48, scoreStops, [.25, .54, .85]);
[['0.10',631],['0.08',645],['0.06',660]].forEach(l => T(802, l[1], l[0], 10.5, {align: 'left'}));

// ---- d, e
const HEAT_COLORS = ['#5DA5DF', '#FFFFFF', '#E67E22'];
function treeSegs(node, row, out) {
  if (typeof node === 'number') {
    const y0 = row + 0.5, y1 = row + node - 0.5;
    for (let i = 0; i < node; i++) out.push([0, row + i + 0.5, 0.09, row + i + 0.5]);
    if (node > 1) out.push([0.09, y0, 0.09, y1]);
    return {y: (y0 + y1) / 2, h: 0.09, next: row + node};
  }
  const a = treeSegs(node[1], row, out), b = treeSegs(node[2], a.next, out);
  out.push([a.h, a.y, node[0], a.y], [b.h, b.y, node[0], b.y], [node[0], a.y, node[0], b.y]);
  return {y: (a.y + b.y) / 2, h: node[0], next: b.next};
}
function heatPanel(o) {
  const g = addGrid(o.x, 380, o.w, 308,
    {type: 'category', data: o.cols, show: false}, {type: 'category', data: o.rows.map((r, i) => i), inverse: true, show: false});
  const idx = series.length;
  const cells = [];
  o.rows.forEach((r, i) => r.forEach((v, j) => cells.push([j, i, v])));
  series.push({type: 'heatmap', xAxisIndex: g.x, yAxisIndex: g.y, data: cells, silent: true, progressive: 0});
  visualMaps.push({type: 'continuous', show: false, seriesIndex: idx, min: -2, max: 2, inRange: {color: HEAT_COLORS}});
  const top = addGrid(o.x, 347, o.w, 33, {min: 0, max: o.cols.length, show: false}, {min: 0, max: 1, show: false});
  const ts = [];
  o.merges.forEach(m => ts.push([m[0], m[2], m[0], m[4]], [m[1], m[3], m[1], m[4]], [m[0], m[4], m[1], m[4]]));
  segSeries(top, ts, '#555', 1);
  const left = addGrid(o.x - 34.5, 380, 34, 308, {min: 0, max: 1, inverse: true, show: false}, {min: 0, max: o.rows.length, inverse: true, show: false});
  const rs = [];
  treeSegs(o.tree, 0, rs);
  segSeries(left, rs, '#555', 0.9);
}
heatPanel({x: 894, w: 193.5, cols: dCols, rows: heatD, merges: dColMerges, tree: dTree});
heatPanel({x: 1225, w: 240, cols: eCols, rows: heatE, merges: eColMerges, tree: eTree});
colorbar(1105, 384, 9, 129, HEAT_COLORS.slice().reverse());
[['2',387],['1',418],['0',449],['\u22121',480],['\u22122',512]].forEach(l => T(1119, l[1], l[0], 17, {align: 'left'}));
colorbar(1483, 369, 9, 129, HEAT_COLORS.slice().reverse());
[['2',371],['1',402],['0',434],['\u22121',466],['\u22122',497]].forEach(l => T(1496, l[1], l[0], 17, {align: 'left'}));
T(998, 332, 'E2A-PBX1 DORC gene', 21.4); T(1336.6, 335, 'B16-CD19 DORC gene', 21.4);
const cellRich = {
  n: {fontSize: 16, fontFamily: FONT, fontStyle: 'italic', fill: '#222', color: '#222'},
  s: {fontSize: 11, fontFamily: FONT, fontStyle: 'italic', fill: '#222', color: '#222', verticalAlign: 'bottom'},
  u: {fontSize: 10, fontFamily: FONT, fontStyle: 'italic', fill: '#222', color: '#222', verticalAlign: 'top'}
};
const cellLabel = (x, text) => T(x, 698, text, 16, {rot: 44, align: 'right', rich: cellRich, italic: true});
cellLabel(925, '{n|T}{s|s}{n|-like cells}'); cellLabel(972, '{n|ISG T cells}'); cellLabel(1022, '{n|T}{s|eff}{n|-like cells}'); cellLabel(1069, '{n|Proliferating T cells}');
cellLabel(1255, '{n|Nr4a1}{u|+}{n| T}{s|ex}{n|-like cells}'); cellLabel(1305, '{n|Klf2}{u|+}{n| T}{s|ex}{n|-like cells}'); cellLabel(1351, '{n|ISGT cells}'); cellLabel(1399, '{n|T}{s|ex}{n|-like cells}'); cellLabel(1452, '{n|Proliferating T cells}');

// ---- f, g
const SCORE_STOPS = ['#C8201E', '#F5A623', '#D4D6CC', '#56B4E9', '#3A62B0'];
function volcano(o) {
  const g = addGrid(o.x, o.y, o.w, o.h, tickAxis(o.xr[0], o.xr[1], o.xt, o.xt, {font: 14, width: o.lw, margin: 5}), tickAxis(o.yr[0], o.yr[1], o.yt, o.yt, {font: 14, width: o.lw, margin: 5}));
  polySeries(g, o.haze, i => ({fill: i < o.hazeBlue ? '#6DBBEB' : '#F2BE6A', opacity: o.hazeOpacity[i]}), 1);
  polySeries(g, [o.hull], () => ({fill: '#C7D6DE'}), 2);
  polySeries(g, [o.blueLobe], () => ({fill: '#A3CFEB', opacity: 0.9}), 3);
  polySeries(g, [o.orangeLobe], () => ({fill: '#EFD9AE', opacity: 0.95}), 3);
  dots(g, o.grey, '#C7D6DE', 1.4, 4);
  dots(g, o.blue, '#6DBBEB', 1.3, 4, 0.9);
  dots(g, o.orange, '#F2BE6A', 1.3, 4, 0.9);
  dots(g, o.red, '#F08A6A', 1.3, 4);
  if (o.dark) dots(g, o.dark, '#5E7CC4', 1.4, 4);
}
volcano({x: 56, y: 830, w: 170, h: 206, xr: [-7.8, 13.4], yr: [-8.3, 11.4], xt: [-5, 0, 5, 10], yt: [-5, 0, 5, 10], lw: 2, hull: fHull, blueLobe: fBlueLobe, orangeLobe: fOrangeLobe, grey: fGrey, blue: fBlue, orange: fOrange, red: fRed,
  haze: [fBlueHaze, fOrangeHaze], hazeBlue: 1, hazeOpacity: [0.12, 0.18]});
volcano({x: 333, y: 831, w: 167, h: 206, xr: [-6.5, 10.2], yr: [-15.4, 15.5], xt: [-5, 0, 5, 10], yt: [-15, -10, -5, 0, 5, 10, 15], lw: 1.5, hull: gHull, blueLobe: gBlueLobe, orangeLobe: gOrangeLobe, grey: gGrey, blue: gBlue, orange: gOrange, red: gRed, dark: gDarkBlue,
  haze: [gBlueHaze, gBlueHazeInner, gOrangeHaze, gOrangeHazeInner], hazeBlue: 2, hazeOpacity: [0.08, 0.2, 0.1, 0.22]});
T(147, 813, 'E2A-PBX1', 21); T(440, 813, 'B16-CD19', 21);
T(23, 929, 'Enrichment.log10P', 20.5, {rot: 90}); T(291, 927, 'Enrichment.log10P', 20.5, {rot: 90});
T(150, 1065, 'Corr.log10P', 20); T(432, 1065, 'Corr.log10P', 20);
T(229, 900, 'Score', 17.5, {align: 'left'}); T(503, 900, 'Score', 17.5, {align: 'left'});
colorbar(234, 937, 11, 55, SCORE_STOPS, [.25, .5, .75]); colorbar(508, 936, 11, 55, SCORE_STOPS, [.25, .5, .75]);
[['4',934],['2',948],['0',962],['\u22122',976],['\u22124',989]].forEach(l => { T(248, l[1], l[0], 14, {align: 'left'}); T(522, l[1] - 1, l[0], 14, {align: 'left'}); });

// ---- h
const venn = addGrid(560, 840, 240, 150, {min: 0, max: 240, show: false}, {min: 0, max: 150, inverse: true, show: false});
[[[90, 58], '#2E9E4F'], [[152, 58], '#F39C3D']].forEach(c => series.push({type: 'scatter', xAxisIndex: venn.x, yAxisIndex: venn.y, silent: true, clip: false, symbolSize: 134, data: [c[0]], itemStyle: {color: 'rgba(0,0,0,0)', borderColor: c[1], borderWidth: 1.3}}));
series.push({type: 'line', xAxisIndex: venn.x, yAxisIndex: venn.y, silent: true, showSymbol: false, data: [[17, 142], [122, 77], [228, 141]], lineStyle: {color: '#111', width: 1.4}});
T(610, 898, String(vennCounts[0]), 26); T(683, 898, String(vennCounts[1]), 26); T(751, 898, String(vennCounts[2]), 26);
T(619, 813, 'E2A-PBX1', 20.5); T(759, 813, 'B16-CD19', 20.5);
[575, 640, 701, 756].forEach((x, c) => tfColumns[c].forEach((n, i) => T(x, 993 + i * 13.38, n, 13, {align: 'left', color: redTfs.includes(n) ? '#E8201E' : '#222'})));

// ---- i, j
const nearest = (p, pool, n) => pool.slice().sort((a, b) => Math.hypot(a[0] - p[0], a[1] - p[1]) - Math.hypot(b[0] - p[0], b[1] - p[1])).slice(0, n);
const netBox = addGrid(820, 780, 718, 450, {min: 0, max: 1568, show: false}, {min: 0, max: 1350, inverse: true, show: false});
const iEdges = iApartEdges.slice();
iBlue.forEach(p => nearest(p, iHubs, 4).forEach(h => iEdges.push([p[0], p[1], h[0], h[1]])));
iRed.forEach(p => { nearest(p, iHubs, 1).concat(nearest(p, iBlue, 1)).forEach(h => iEdges.push([p[0], p[1], h[0], h[1]])); });
iHubs.forEach(p => nearest(p, iHubs, 4).forEach(h => iEdges.push([p[0], p[1], h[0], h[1]])));
segSeries(netBox, iEdges, '#8c8c8c', 0.8, 2);
dots(netBox, iBlue.concat(iBlueApart), '#4657A6', 1.6, 5);
dots(netBox, iRed.concat(iRedApart), '#F0524F', 4, 5);
dots(netBox, iHubs, '#F0524F', 5, 5);
dots(netBox, iYellow, '#E9DC14', 3.5, 5);
polySeries(netBox, [jCore], () => ({fill: '#8a8a8a'}), 2);
const jEdges = jExtraEdges.slice();
jBlue.forEach(p => nearest(p, jInner, 12).forEach(h => jEdges.push([p[0], p[1], h[0], h[1]])));
jOuter.forEach(p => nearest(p, jBlue, 2).forEach(h => jEdges.push([p[0], p[1], h[0], h[1]])));
segSeries(netBox, jEdges, '#8a8a8a', 0.8, 2);
dots(netBox, jBlue.concat(jBlueInner), '#4657A6', 1.6, 5);
dots(netBox, jInner.concat(jOuter), '#F0524F', 3.5, 5);
T(981, 812, 'E2A-PBX1', 21); T(1346.6, 812, 'B16-CD19', 21);

// ---- k
const kBox = addGrid(0, 1230, 520, 570, {min: 0, max: 1560, show: false}, {min: 0, max: 1568, inverse: true, show: false});
const kEdges = [];
kGenes.forEach(g => g[3].forEach(h => kEdges.push([g[1], g[2], kHubs[h][1], kHubs[h][2]])));
segSeries(kBox, kEdges, '#8a8a8a', 1, 2);
series.push({type: 'scatter', xAxisIndex: kBox.x, yAxisIndex: kBox.y, silent: true, clip: false, z: 5, symbolSize: 1,
  data: kGenes.map(g => ({name: g[0], value: [g[1], g[2]]})), itemStyle: {color: '#111'},
  label: {show: true, position: 'inside', formatter: '{b}', fontFamily: FONT, fontSize: 5.2, fontWeight: 'bold', color: '#111'}, labelLayout: {hideOverlap: false}});
series.push({type: 'scatter', xAxisIndex: kBox.x, yAxisIndex: kBox.y, silent: true, clip: false, z: 6, symbolSize: 1,
  data: kHubs.map(h => ({name: h[0], value: [h[1], h[2]]})), itemStyle: {color: 'rgba(0,0,0,0)'},
  label: {show: true, position: 'inside', formatter: '{b}', fontFamily: FONT, fontSize: 13.5, color: '#111', backgroundColor: '#F59A9C', width: 37, height: 10, lineHeight: 10, align: 'center', verticalAlign: 'middle'}});
T(67, 1260, '{t|B16-CD19 CD8}{u|+}{t|CAR T}{s|ex}{t|-like cells}', 20.5, {align: 'left', rich: {
  t: {fontSize: 20.5, fontFamily: FONT, fill: '#222', color: '#222'},
  u: {fontSize: 15, fontFamily: FONT, fill: '#222', color: '#222', verticalAlign: 'top'},
  s: {fontSize: 14, fontFamily: FONT, fill: '#222', color: '#222', verticalAlign: 'bottom'}}});

// ---- l
const gl = addGrid(810.4, 1258, 309, 235,
  {min: -1.06, max: 22.44, axisLine: hidden, axisTick: {show: false, customValues: tfTicks},
   axisLabel: {show: true, customValues: tfTickLabels, fontFamily: FONT, fontSize: 15.5, color: '#333', margin: 13},
   splitLine: {show: true, lineStyle: {color: '#EBEBEB', width: 2}}},
  {min: 0.407, max: 3.596, inverse: true, axisLine: hidden, axisTick: {show: false, customValues: [1, 2, 3]}, axisLabel: hidden,
   splitLine: {show: true, lineStyle: {color: '#EBEBEB', width: 3}}});
polySeries(gl, tfLogP.map((v, i) => [[0, i + 0.545], [v, i + 0.545], [v, i + 1.455], [0, i + 1.455]]), i => ({fill: tfColors[i]}), 3);
const tfRich = {t: {fontSize: 21, fontFamily: FONT, fill: '#222', color: '#222'}, s: {fontSize: 15.5, fontFamily: FONT, fill: '#222', color: '#222', verticalAlign: 'bottom'}};
const tfMarkup = ['{t|E2A-PBX1 T}{s|stem}{t|-like TF}', '{t|E2A-PBX1 T}{s|eff}{t|-like TF}', '{t|B16-CD19 T}{s|ex}{t|-like TF}'];
tfMarkup.forEach((m, i) => T(561, 1303 + i * 73.7, m, 21, {align: 'left', rich: tfRich}));
T(962, 1537, '{t|-log }{p|P}', 20, {rich: {t: {fontSize: 20, fontFamily: FONT, fill: '#222', color: '#222'}, p: {fontSize: 20, fontFamily: FONT, fontStyle: 'italic', fill: '#222', color: '#222'}}});
T(970.6, 1577, 'Numbers of overlapped genes', 21.2);
colorbar(878.6, 1593, 191.4, 20, ['#F6BCC8', '#EE2428'], [.2, .4, .6, .8], true);
T(880, 1625, '0', 15.5); T(1066, 1625, '5', 15.5);

const chart = echarts.init(document.getElementById('main'), null, {renderer: 'canvas', width: 1538, height: 1800});
chart.setOption({animation: false, backgroundColor: '#fff', tooltip: {show: false}, grid: grids, xAxis: xAxes, yAxis: yAxes, series, legend: legends, visualMap: visualMaps, graphic: {elements: graphics}});
</script>
</body>
</html>
